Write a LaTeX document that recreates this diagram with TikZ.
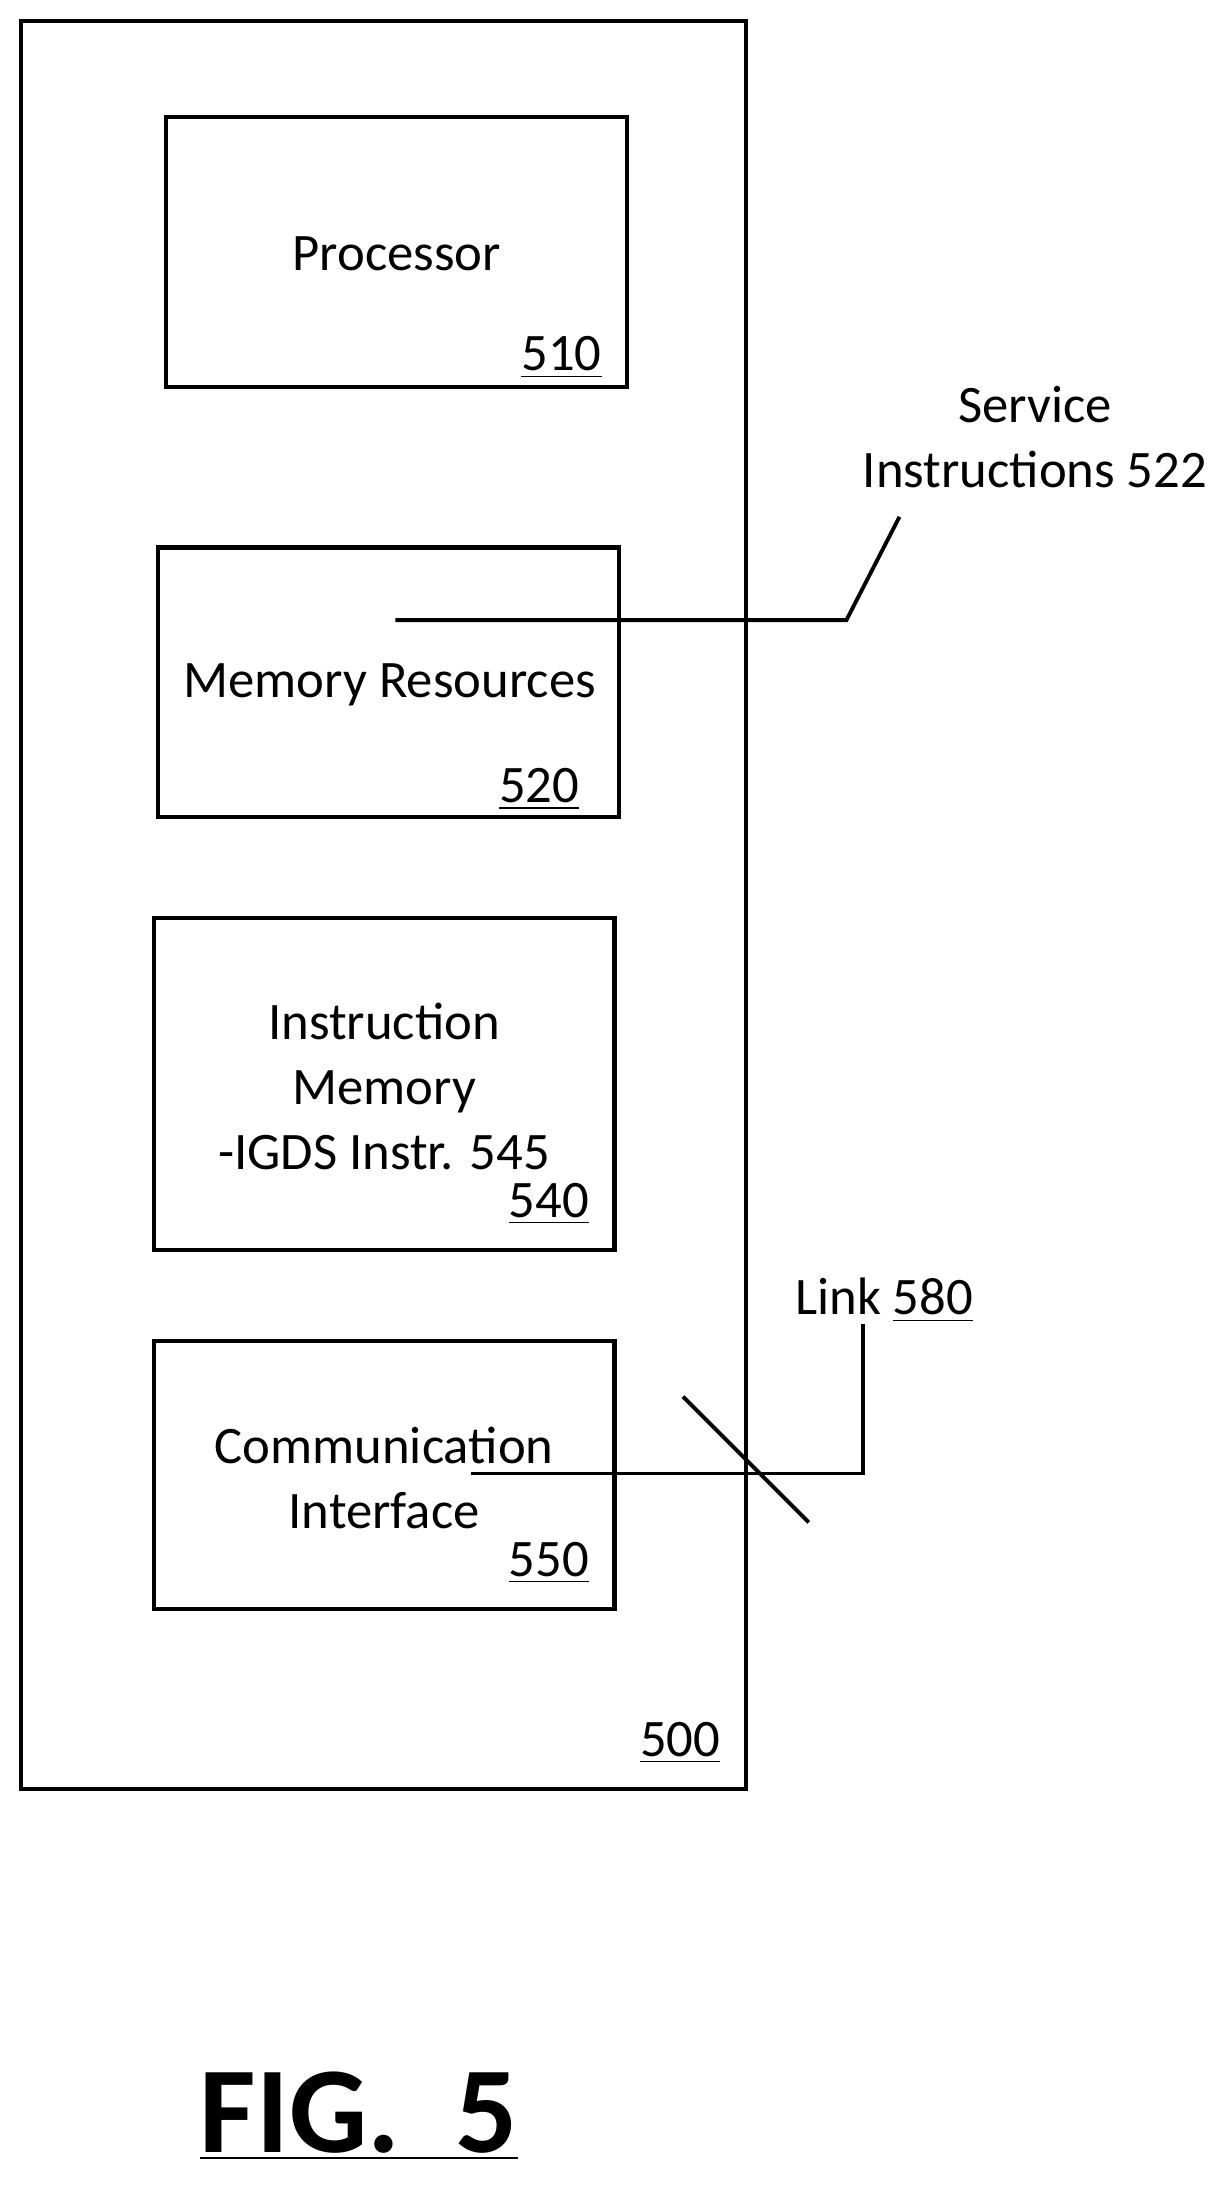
\documentclass[tikz,border=0pt]{standalone}
\usepackage{fontspec}
\setmainfont{Carlito}
\usetikzlibrary{positioning}
\begin{document}
\begin{tikzpicture}[
            x=0.01397cm, y=-0.01397cm,
            box/.style={draw, line width=1.2pt},
            every node/.style={font=\fontsize{15}{18.5}\selectfont, inner sep=0pt, align=center},
            lead/.style={line width=1.1pt},
            ]
            \useasboundingbox (0,0) rectangle (880,1568);
            % outer device
            \draw[box] (15,15) rectangle (534,1281);
            \node (n500) at (487,1248) {\underline{500}};
            % inner blocks
            \draw[box] (119,84) rectangle (449,277);
            \node (proc) at (284,182) {Processor};
            \node (n510) at (402,256) {\underline{510}};
            \draw[box] (113,392) rectangle (443,585);
            \node (mem) at (279,490) {Memory Resources};
            \node (n520) at (386,565) {\underline{520}};
            \draw[box] (110,657) rectangle (440,895);
            \node (imem) at (275,778) {Instruction\\Memory\\-IGDS Instr. 545};
            \node (n540) at (393,862) {\underline{540}};
            \draw[box] (110,960) rectangle (440,1152);
            \node (comm) at (275,1058) {Communication\\Interface};
            \node (n550) at (393,1119) {\underline{550}};
            % callouts
            \node (svc) at (741,313) {Service\\Instructions 522};
            \coordinate (s0) at (283,444);
            \coordinate (s1) at (606,444);
            \coordinate (s2) at (644,370);
            \draw[lead] (s0) -- (s1) -- (s2);
            \node (link) at (633,931) {Link \underline{580}};
            \coordinate (l0) at (337,1055);
            \coordinate (l1) at (618,1055);
            \coordinate (l2) at (618,948);
            \draw[lead] (l0) -- (l1) -- (l2);
            \coordinate (c0) at (489,1000);
            \coordinate (c1) at (579,1090);
            \draw[lead] (c0) -- (c1);
            \node (fig) at (257,1515) {\fontsize{35}{38}\selectfont\bfseries\underline{FIG.\ \ 5}};
        \end{tikzpicture}
\end{document}
